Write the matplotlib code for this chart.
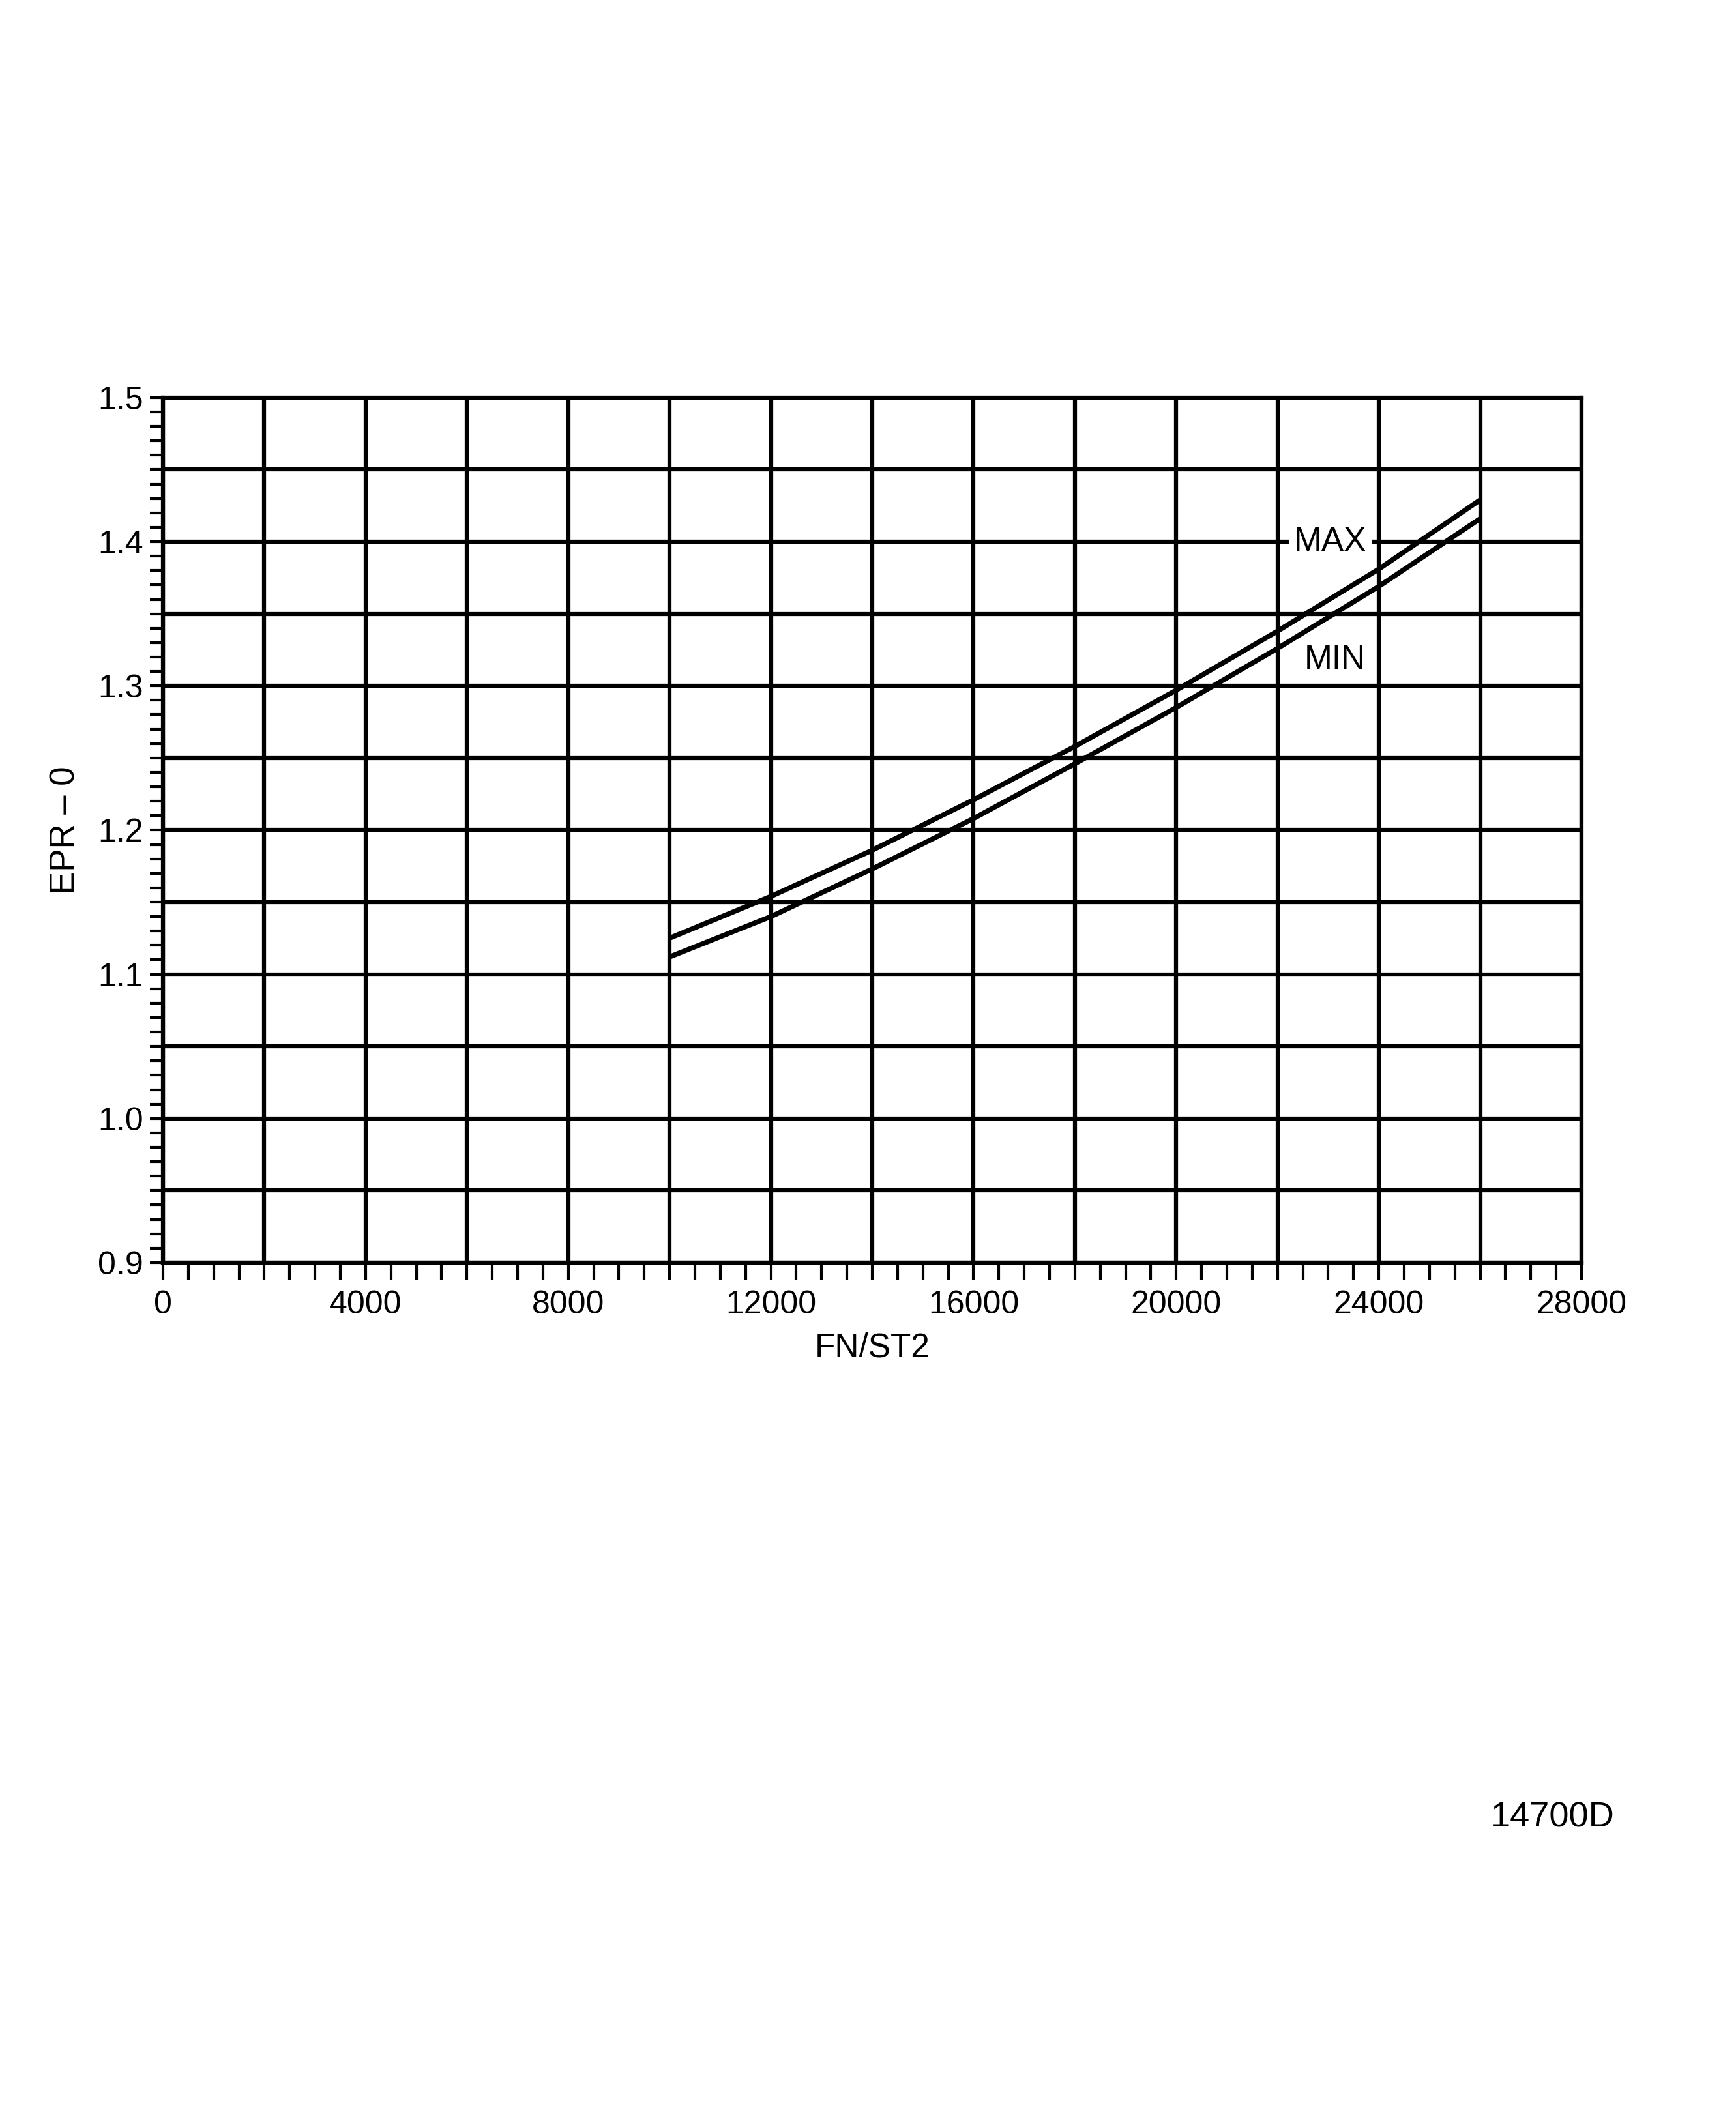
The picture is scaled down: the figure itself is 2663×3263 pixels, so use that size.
import matplotlib
matplotlib.use('Agg')
import matplotlib.pyplot as plt
import numpy as np
from matplotlib.ticker import MultipleLocator

# ---- data ----
fn_st2 = [10000, 12000, 14000, 16000, 18000, 20000, 22000, 24000, 26000]
epr_max = [1.125, 1.154, 1.186, 1.221, 1.258, 1.297, 1.338, 1.381, 1.429]
epr_min = [1.112, 1.140, 1.173, 1.208, 1.246, 1.285, 1.326, 1.369, 1.416]

x_major = list(range(0, 28001, 2000))
x_labels = [str(v) if v % 4000 == 0 else '' for v in x_major]
y_major = [round(0.9 + 0.05 * i, 2) for i in range(13)]
y_labels = [f"{v:.1f}" if round(v * 100) % 10 == 0 else '' for v in y_major]

plt.rcParams['font.family'] = ['Liberation Sans', 'DejaVu Sans']

fig = plt.figure(figsize=(26.63, 32.63), dpi=100)
ax = fig.add_axes([0.09388, 0.4064, 0.8171, 0.4067])
ax.set_xlim(0, 28000)
ax.set_ylim(0.9, 1.5)

ax.set_xticks(x_major)
ax.set_xticklabels(x_labels)
ax.set_yticks(y_major)
ax.set_yticklabels(y_labels)
ax.xaxis.set_minor_locator(MultipleLocator(500))
ax.yaxis.set_minor_locator(MultipleLocator(0.01))

ax.grid(True, which='major', color='black', linewidth=4.5)
ax.set_axisbelow(True)

for s in ax.spines.values():
    s.set_linewidth(4.5)
    s.set_color('black')

ax.tick_params(axis='x', which='both', direction='out', length=19.5, width=3,
               labelsize=36, pad=11)
ax.tick_params(axis='y', which='both', direction='out', length=14.5, width=3,
               labelsize=36, pad=7)

ax.plot(fn_st2, epr_max, color='black', linewidth=5.5, solid_capstyle='butt')
ax.plot(fn_st2, epr_min, color='black', linewidth=5.5, solid_capstyle='butt')

ax.text(23040, 1.400, 'MAX', fontsize=37, ha='center', va='center',
        bbox=dict(facecolor='white', edgecolor='none', pad=6), zorder=5)
ax.text(23140, 1.318, 'MIN', fontsize=37, ha='center', va='center', zorder=5)

ax.set_xlabel('FN/ST2', fontsize=37)
ax.xaxis.set_label_coords(0.5, -0.0987)
ax.xaxis.label.set_verticalalignment('center')
ax.set_ylabel('EPR \u2013 0', fontsize=38)
ax.yaxis.set_label_coords(-0.0685, 0.5)
ax.yaxis.label.set_verticalalignment('center')

fig.text(0.930, 0.141, '14700D', fontsize=39, ha='right', va='baseline')

fig.savefig('out.png', dpi=100, facecolor='white')
